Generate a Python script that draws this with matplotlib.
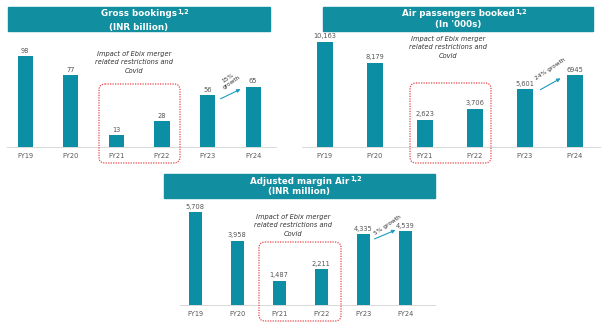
import matplotlib
matplotlib.use('Agg')
import matplotlib.pyplot as plt
from matplotlib.patches import FancyBboxPatch, Rectangle

years = ['FY19', 'FY20', 'FY21', 'FY22', 'FY23', 'FY24']
gross_bookings = [98, 77, 13, 28, 56, 65]
gross_labels = ['98', '77', '13', '28', '56', '65']
air_pax = [10163, 8179, 2623, 3706, 5601, 6945]
air_labels = ['10,163', '8,179', '2,623', '3,706', '5,601', '6945']
adj_margin = [5708, 3958, 1487, 2211, 4335, 4539]
adj_labels = ['5,708', '3,958', '1,487', '2,211', '4,335', '4,539']

W, H = 602, 324
BAR = '#0C8FA4'
HEAD = '#118E9F'
GREY = '#555555'
RED = '#E8474A'

fig = plt.figure(figsize=(W / 100, H / 100), dpi=100)
fig.patch.set_facecolor('white')


def px_axes(left, top, right, bottom):
    return fig.add_axes([left / W, 1 - bottom / H, (right - left) / W, (bottom - top) / H])


def bar_panel(vals, labels, box, xlim, ymax, width, pad):
    ax = px_axes(*box)
    ax.bar(range(len(vals)), vals, width=width, color=BAR, zorder=2)
    for i, (v, lab) in enumerate(zip(vals, labels)):
        ax.text(i, v + pad, lab, ha='center', va='bottom', fontsize=4.8, color=GREY)
    ax.set_xlim(*xlim)
    ax.set_ylim(0, ymax)
    ax.set_xticks(range(len(vals)))
    ax.set_xticklabels(years, fontsize=4.8, color=GREY)
    ax.tick_params(axis='x', length=0, pad=4)
    ax.set_yticks([])
    for s in ['top', 'right', 'left']:
        ax.spines[s].set_visible(False)
    ax.spines['bottom'].set_color('#D9D9D9')
    ax.spines['bottom'].set_linewidth(0.7)
    ax.patch.set_alpha(0)
    return ax


bar_panel(gross_bookings, gross_labels, (7, 40, 276, 147), (-0.4, 5.5),
          ymax=115.2, width=0.33, pad=2.5)
bar_panel(air_pax, air_labels, (302, 35, 600, 147), (-0.45, 5.5),
          ymax=10842, width=0.32, pad=250)
bar_panel(adj_margin, adj_labels, (180, 200, 435, 305), (-0.36, 5.71),
          ymax=6444, width=0.31, pad=150)

# overlay in pixel coordinates for headers, boxes and notes
ov = fig.add_axes([0, 0, 1, 1])
ov.set_xlim(0, W)
ov.set_ylim(H, 0)
ov.axis('off')
ov.patch.set_alpha(0)

headers = [
    ((8, 7, 270, 31), 'Gross bookings', '(INR billion)', 14, 27.5),
    ((323, 7, 593, 31), 'Air passengers booked', "(In '000s)", 14, 25),
    ((164, 174, 435, 198), 'Adjusted margin Air', '(INR million)', 181, 191.5),
]
for (l, t, r, b), t1, t2, y1, y2 in headers:
    ov.add_patch(Rectangle((l, t), r - l, b - t, color=HEAD, zorder=1))
    cx = (l + r) / 2
    h = ov.text(cx, y1, t1, ha='center', va='center', fontsize=6.3, color='white',
                fontweight='bold', zorder=2)
    ov.annotate('1,2', xy=(1, 0.75), xycoords=h, xytext=(0.5, 0),
                textcoords='offset points', fontsize=4.8, color='white',
                fontweight='bold', va='center', ha='left', zorder=2)
    ov.text(cx, y2, t2, ha='center', va='center', fontsize=6.3, color='white',
            fontweight='bold', zorder=2)

boxes = [(99, 84, 180, 163), (410, 83, 491, 163), (259, 242, 341, 321)]
for l, t, r, b in boxes:
    ov.add_patch(FancyBboxPatch((l + 6, t + 6), r - l - 12, b - t - 12,
                                boxstyle='round,pad=6', fill=False,
                                edgecolor=RED, linestyle=(0, (1, 1)), linewidth=0.9))

note = 'Impact of Ebix merger\nrelated restrictions and\nCovid'
for x, y in [(134, 62), (448, 47), (293, 225)]:
    ov.text(x, y, note, ha='center', va='center', fontsize=4.8, color='#333333',
            style='italic', linespacing=1.5)

growth = [
    ((218, 100), (243, 88), '15%\ngrowth', (230, 80)),
    ((538, 91), (563, 77), '24% growth', (550, 69)),
    ((372, 240), (398, 229), '5% growth', (388, 225)),
]
for (x0, y0), (x1, y1), txt, (tx, ty) in growth:
    ov.annotate('', xy=(x1, y1), xytext=(x0, y0),
                arrowprops=dict(arrowstyle='-|>', color='#1B9CC0', lw=0.8,
                                mutation_scale=5))
    ov.text(tx, ty, txt, ha='center', va='center', fontsize=4.2, color='#333333',
            rotation=34, linespacing=1.2)

fig.savefig('out.png', dpi=100)
